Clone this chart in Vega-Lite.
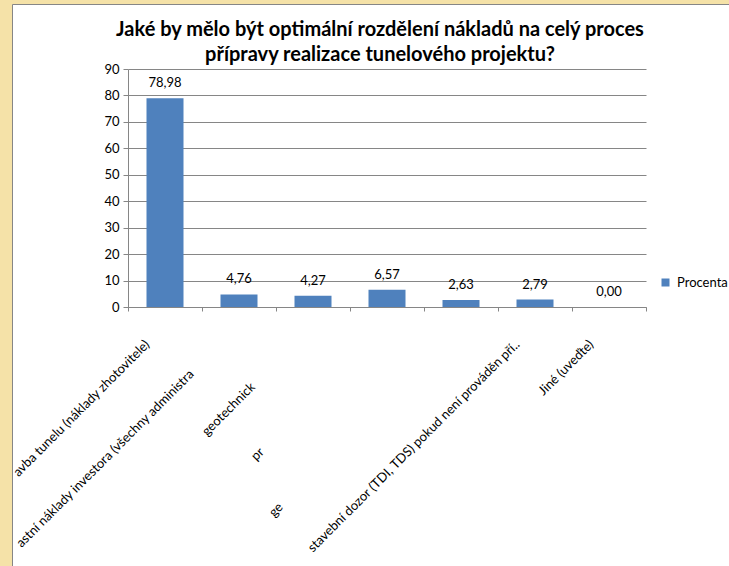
{
  "$schema": "https://vega.github.io/schema/vega-lite/v6.json",
  "width": 718,
  "height": 563,
  "autosize": "none",
  "padding": {"left": 12, "top": 4, "right": 0, "bottom": 0},
  "background": "#F5E2A8",
  "view": {"fill": "#FFFFFF", "stroke": "#868686", "strokeWidth": 1},
  "title": {
    "text": ["Jaké by mělo být optimální rozdělení nákladů na celý proces", "přípravy realizace tunelového projektu?"],
    "font": "Lato",
    "fontSize": 20,
    "fontWeight": "bold",
    "color": "#000000",
    "anchor": "middle",
    "frame": "group",
    "offset": -61,
    "lineHeight": 25.5,
    "dx": 9
  },
  "data": {
    "values": [
      {"kategorie": "avba tunelu (náklady zhotovitele)", "procento": 78.98},
      {"kategorie": "astní náklady investora (všechny administra", "procento": 4.76},
      {"kategorie": "geotechnick", "procento": 4.27},
      {"kategorie": "pr", "procento": 6.57},
      {"kategorie": "ge", "procento": 2.63},
      {"kategorie": "stavební dozor (TDI, TDS) pokud není prováděn pří..", "procento": 2.79},
      {"kategorie": "Jiné (uveďte)", "procento": 0}
    ]
  },
  "encoding": {
    "x": {
      "field": "kategorie",
      "type": "nominal",
      "sort": null,
      "scale": {"range": [116, 634], "paddingInner": 0, "paddingOuter": 0},
      "axis": {
        "title": null,
        "orient": "bottom",
        "offset": -260,
        "labelAngle": -45,
        "labelAlign": "right",
        "labelBaseline": "middle",
        "labelFont": "Lato",
        "labelFontSize": 13,
        "labelColor": "#000000",
        "labelLimit": 0,
        "labelPadding": 31,
        "labelOffset": -18,
        "domainColor": "#868686",
        "tickColor": "#868686",
        "tickSize": 4,
        "tickBand": "extent",
        "grid": false,
        "encoding": {
          "labels": {
            "dx": {"value": {"expr": "datum.value === 'astní náklady investora (všechny administra' ? -42 : datum.value === 'geotechnick' ? -60 : datum.value === 'pr' ? -152 : datum.value === 'ge' ? -230 : datum.value === 'stavební dozor (TDI, TDS) pokud není prováděn pří..' ? 0 : 0"}}
          }
        }
      }
    },
    "y": {
      "field": "procento",
      "type": "quantitative",
      "scale": {"domain": [0, 90], "range": [303, 65], "nice": false},
      "axis": {
        "title": null,
        "values": [0, 10, 20, 30, 40, 50, 60, 70, 80, 90],
        "offset": -116,
        "grid": true,
        "gridColor": "#868686",
        "domainColor": "#868686",
        "tickColor": "#868686",
        "tickSize": 5,
        "labelFont": "Lato",
        "labelFontSize": 13,
        "labelColor": "#000000",
        "labelPadding": 4
      }
    }
  },
  "layer": [
    {
      "mark": {"type": "bar", "width": {"band": 0.5}},
      "encoding": {
        "color": {
          "datum": "Procenta",
          "scale": {"range": ["#4F81BD"]},
          "legend": {
            "title": null,
            "orient": "none",
            "legendX": 647,
            "legendY": 272,
            "symbolType": "square",
            "symbolSize": 64,
            "symbolStrokeWidth": 0,
            "labelFont": "Lato",
            "labelFontSize": 13,
            "labelColor": "#000000",
            "labelOffset": 5,
            "padding": 0
          }
        }
      }
    },
    {
      "mark": {"type": "text", "baseline": "alphabetic", "dy": -11, "font": "Lato", "fontSize": 13, "color": "#000000"},
      "encoding": {
        "text": {"field": "procento", "type": "quantitative", "format": ".2f"}
      }
    }
  ],
  "config": {
    "locale": {"number": {"decimal": ",", "thousands": " ", "grouping": [3], "currency": ["", " Kč"]}}
  }
}
